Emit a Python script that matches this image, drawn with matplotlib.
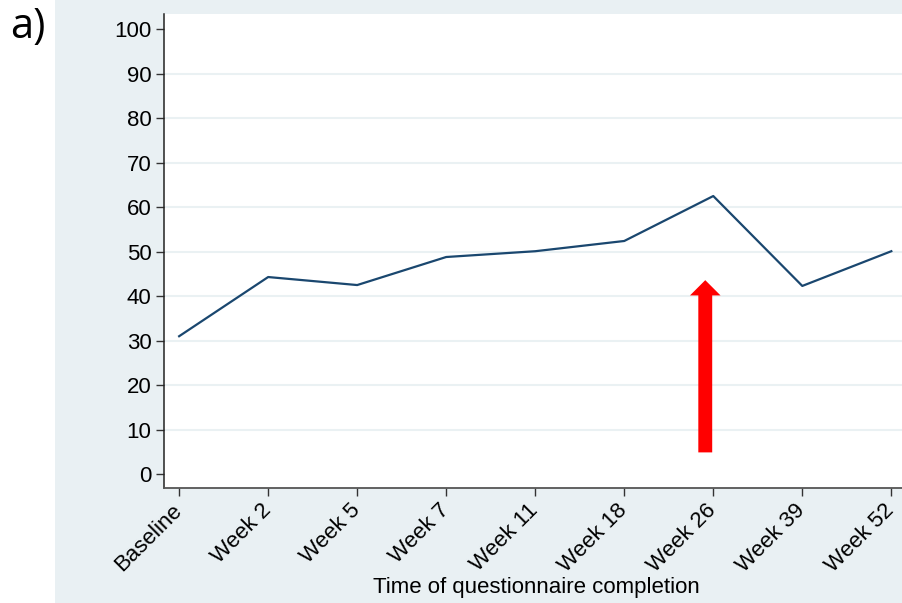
import matplotlib.pyplot as plt
import numpy as np

plt.rcParams['font.family'] = ['Liberation Sans', 'DejaVu Sans']

# mean score at each questionnaire time point
timepoints = ['Baseline', 'Week 2', 'Week 5', 'Week 7', 'Week 11',
              'Week 18', 'Week 26', 'Week 39', 'Week 52']
scores = [31.0, 44.3, 42.5, 48.8, 50.1, 52.4, 62.5, 42.3, 50.1]
yticks = list(range(0, 101, 10))

# arrow marking the week 26 time point
arrow_x = 5.91
arrow_from = 4.9
arrow_to = 43.6

panel_bg = '#e9f0f3'
navy = '#1a476f'

fig = plt.figure(figsize=(9.02, 6.03), dpi=100)
fig.patch.set_facecolor('white')

# shaded Stata-style panel behind the plot
bg = fig.add_axes([55 / 902, 0, 1 - 55 / 902, 1], zorder=-1)
bg.set_facecolor(panel_bg)
bg.axis('off')
bg.add_patch(plt.Rectangle((0, 0), 1, 1, transform=bg.transAxes,
                           facecolor=panel_bg, edgecolor='none'))

ax = fig.add_axes([164 / 902, 1 - 488 / 603, (902 - 164) / 902, (488 - 14) / 603], zorder=1)
ax.set_facecolor('white')

x = np.arange(len(timepoints))
ax.plot(x, scores, color=navy, lw=1.6, zorder=3)

ax.annotate('', xy=(arrow_x, arrow_to), xytext=(arrow_x, arrow_from),
            arrowprops=dict(arrowstyle='simple,head_width=2.2,head_length=1.1,tail_width=1.0',
                            color='red', lw=0, shrinkA=0, shrinkB=0),
            zorder=4)

ax.set_xlim(-0.17, 8.12)
ax.set_ylim(-3.1, 103.4)
ax.set_yticks(yticks)
ax.set_xticks(x)
ax.set_xticklabels(timepoints, rotation=45, ha='right', va='center',
                   rotation_mode='anchor', fontsize=16)
ax.tick_params(axis='y', labelsize=16, length=6, width=1, color='#333333', pad=3)
ax.tick_params(axis='x', length=6, width=1, color='#333333', pad=8)

for g in yticks[1:-1]:
    ax.axhline(g, color='#eaf1f3', lw=1.5, zorder=1)

for side in ['top', 'right']:
    ax.spines[side].set_visible(False)
ax.spines['left'].set_color('#222222')
ax.spines['bottom'].set_color('#555555')
ax.spines['left'].set_linewidth(1.1)
ax.spines['bottom'].set_linewidth(1.3)

ax.set_xlabel('Time of questionnaire completion', fontsize=16)
ax.xaxis.set_label_coords((536 - 164) / 738, -(588 - 488) / 474, transform=ax.transAxes)
ax.xaxis.label.set_va('center')
ax.xaxis.label.set_ha('center')

fig.text(10 / 902, 1 - 27 / 603, 'a)', fontsize=30, family=['Open Sans', 'DejaVu Sans'],
         va='center', ha='left')

fig.savefig('out.png', dpi=100)
